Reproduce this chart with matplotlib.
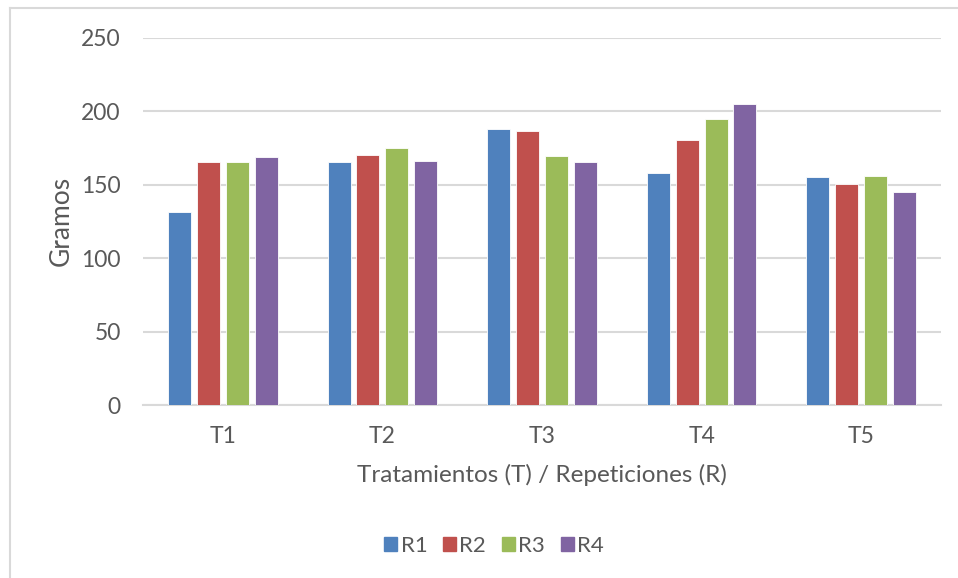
import matplotlib
matplotlib.use("Agg")
import matplotlib.pyplot as plt
import matplotlib.patches as mpatches
import numpy as np

# data
treatments = ["T1", "T2", "T3", "T4", "T5"]
series_names = ["R1", "R2", "R3", "R4"]
r1 = [131.3, 165.4, 188.0, 157.9, 155.0]
r2 = [165.4, 170.4, 186.5, 180.3, 150.3]
r3 = [165.4, 174.9, 169.3, 194.8, 155.7]
r4 = [168.6, 166.1, 165.2, 205.0, 145.0]
y_ticks = [0, 50, 100, 150, 200, 250]

COLORS = ["#4F81BD", "#C0504D", "#9BBB59", "#8064A2"]
TEXT = "#595959"
GRID = "#D9D9D9"

plt.rcParams['font.family'] = ['Lato', 'DejaVu Sans']

W, H = 958, 578
fig = plt.figure(figsize=(W / 100, H / 100), dpi=100)

def fx(x): return x / W
def fy(y): return 1 - y / H

# chart frame (left and top edges visible)
fig.add_artist(plt.Line2D([fx(10), fx(10)], [fy(8), 0], color=GRID, lw=1.5))
fig.add_artist(plt.Line2D([fx(10), 1], [fy(8), fy(8)], color=GRID, lw=1.5))

ax = fig.add_axes([fx(143), fy(405), fx(941) - fx(143), fy(38) - fy(405)])

x = np.arange(len(treatments))
slot = 0.181
bw = 0.144
for i, vals in enumerate([r1, r2, r3, r4]):
    ax.bar(x + (i - 1.5) * slot, vals, width=bw, color=COLORS[i],
           edgecolor="white", linewidth=0.6, zorder=3, label=series_names[i])

ax.set_xlim(-0.5, len(treatments) - 0.5)
ax.set_ylim(0, 250)
ax.set_yticks(y_ticks)
ax.set_xticks(x)
ax.set_xticklabels(treatments)
ax.yaxis.grid(True, color=GRID, lw=1.5, zorder=0)
for s in ["top", "right", "left"]:
    ax.spines[s].set_visible(False)
ax.spines["bottom"].set_color(GRID)
ax.spines["bottom"].set_linewidth(1.5)
ax.tick_params(axis="both", length=0, colors=TEXT, labelsize=16.5)
ax.tick_params(axis="y", pad=16)
ax.tick_params(axis="x", pad=15)

fig.text(fx(542), fy(475), "Tratamientos (T) / Repeticiones (R)",
         ha="center", va="center", color=TEXT, fontsize=17.5)
fig.text(fx(61), fy(221), "Gramos", ha="center", va="center",
         rotation=90, color=TEXT, fontsize=19)

handles = [mpatches.Patch(color=COLORS[i], label=series_names[i]) for i in range(4)]
fig.legend(handles=handles, loc="center", bbox_to_anchor=(fx(494), fy(546)),
           ncol=4, frameon=False, fontsize=16, labelcolor=TEXT,
           handlelength=0.6, handleheight=0.6, handletextpad=0.15,
           columnspacing=0.7)

fig.savefig("out.png", dpi=100)
